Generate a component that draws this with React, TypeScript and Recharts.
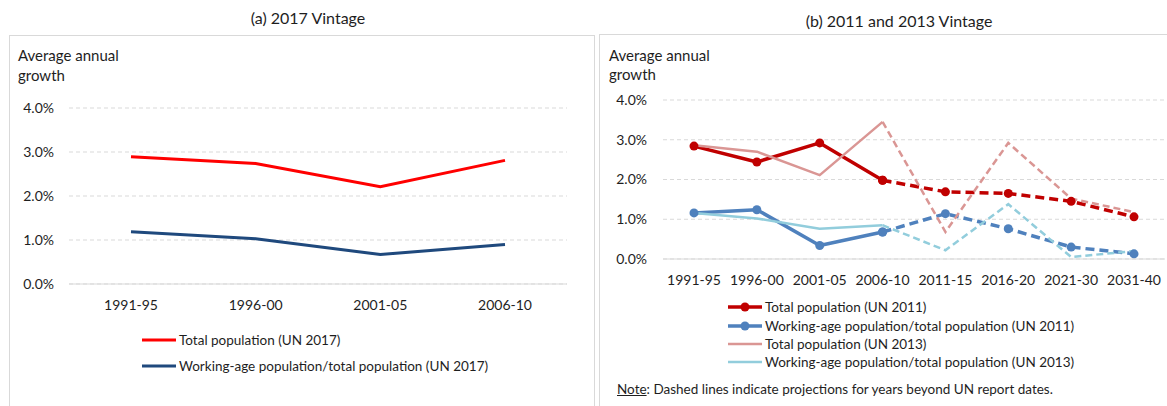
import { CartesianGrid, Legend, Line, LineChart, XAxis, YAxis } from "recharts";

// Panel (a): UN 2017 vintage
const periods2017 = ["1991-95", "1996-00", "2001-05", "2006-10"];
const total2017 = [2.89, 2.74, 2.21, 2.81];
const working2017 = [1.19, 1.03, 0.67, 0.9];

// Panel (b): UN 2011 and 2013 vintages
const periods = ["1991-95", "1996-00", "2001-05", "2006-10", "2011-15", "2016-20", "2021-30", "2031-40"];
const total2011 = [2.84, 2.44, 2.92, 1.98, 1.69, 1.65, 1.45, 1.06];
const working2011 = [1.16, 1.24, 0.34, 0.68, 1.14, 0.76, 0.3, 0.13];
const total2013 = [2.86, 2.7, 2.11, 3.45, 0.68, 2.92, 1.52, 1.18];
const working2013 = [1.16, 1.02, 0.76, 0.85, 0.22, 1.38, 0.05, 0.2];
const lastActual = 3; // 2006-10; later periods are projections

const yTicks = [0, 1, 2, 3, 4];

const FONT = "Lato, 'Open Sans', sans-serif";
const TEXT = "#1e1e1e";
const GRID = "#d9d9d9";

const data2017 = periods2017.map((period, i) => ({
  period,
  total: total2017[i],
  working: working2017[i],
}));

const hist = (vals: number[], i: number) => (i <= lastActual ? vals[i] : null);
const proj = (vals: number[], i: number) => (i >= lastActual ? vals[i] : null);

const data1113 = periods.map((period, i) => ({
  period,
  t11: hist(total2011, i),
  t11p: proj(total2011, i),
  w11: hist(working2011, i),
  w11p: proj(working2011, i),
  t13: hist(total2013, i),
  t13p: proj(total2013, i),
  w13: hist(working2013, i),
  w13p: proj(working2013, i),
}));

type Row = { name: string; color: string; width: number; dot: boolean };

const legend2017: Row[] = [
  { name: "Total population (UN 2017)", color: "#ff0000", width: 3, dot: false },
  { name: "Working-age population/total population (UN 2017)", color: "#1f497d", width: 3, dot: false },
];

const legend1113: Row[] = [
  { name: "Total population (UN 2011)", color: "#c00000", width: 3.5, dot: true },
  { name: "Working-age population/total population (UN 2011)", color: "#4f81bd", width: 3.5, dot: true },
  { name: "Total population (UN 2013)", color: "#da9694", width: 2.5, dot: false },
  { name: "Working-age population/total population (UN 2013)", color: "#92cddc", width: 2.5, dot: false },
];

function LegendRows({ rows, rowHeight }: { rows: Row[]; rowHeight: number }) {
  return (
    <div style={{ fontFamily: FONT, fontSize: 13.5, color: TEXT }}>
      {rows.map((r) => (
        <div key={r.name} style={{ display: "flex", alignItems: "center", height: rowHeight, whiteSpace: "nowrap" }}>
          <svg width={34} height={12} style={{ flex: "none" }}>
            <line x1={0} y1={6} x2={34} y2={6} stroke={r.color} strokeWidth={r.width} />
            {r.dot && <circle cx={17} cy={6} r={4.5} fill={r.color} />}
          </svg>
          <span style={{ marginLeft: 3 }}>{r.name}</span>
        </div>
      ))}
    </div>
  );
}

const pct = (v: number) => `${v.toFixed(1)}%`;
const tickStyle = { fontFamily: FONT, fontSize: 14, fill: TEXT };

function Label({ x, y, text, size = 15, center = false }: { x: number; y: number; text: string; size?: number; center?: boolean }) {
  return (
    <div
      style={{
        position: "absolute",
        left: center ? x - 200 : x,
        width: center ? 400 : undefined,
        textAlign: center ? "center" : "left",
        top: y - 10,
        height: 20,
        lineHeight: "20px",
        fontFamily: FONT,
        fontSize: size,
        color: TEXT,
        whiteSpace: "nowrap",
      }}
    >
      {text}
    </div>
  );
}

export default function App() {
  return (
    <div style={{ position: "relative", width: 1167, height: 406, overflow: "hidden", background: "#fff" }}>
      <style>{"body{margin:0}"}</style>

      {/* panel frames */}
      <div style={{ position: "absolute", left: 9, top: 35, width: 584, height: 400, border: `1px solid ${GRID}` }} />
      <div style={{ position: "absolute", left: 599, top: 34, width: 600, height: 400, border: `1px solid ${GRID}` }} />

      <Label x={308} y={18} text="(a) 2017 Vintage" size={16} center />
      <Label x={18} y={55} text="Average annual" />
      <Label x={18} y={75} text="growth" />

      <Label x={899} y={21} text="(b) 2011 and 2013 Vintage" size={16} center />
      <Label x={609} y={55} text="Average annual" />
      <Label x={609} y={74} text="growth" />

      <div style={{ position: "absolute", left: 0, top: 0 }}>
        <LineChart width={600} height={406} data={data2017} margin={{ top: 108, right: 33, bottom: 92, left: 0 }}>
          <CartesianGrid vertical={false} stroke={GRID} strokeDasharray="4 3" />
          <XAxis
            dataKey="period"
            height={30}
            padding={{ left: 62, right: 62 }}
            tickLine={false}
            tickSize={0}
            tickMargin={16}
            stroke={GRID}
            tick={tickStyle}
            interval={0}
          />
          <YAxis
            width={69}
            domain={[0, 4]}
            ticks={yTicks}
            tickFormatter={pct}
            axisLine={false}
            tickLine={false}
            tickSize={0}
            tickMargin={15}
            tick={tickStyle}
          />
          <Line dataKey="total" stroke="#ff0000" strokeWidth={3} dot={false} activeDot={false} isAnimationActive={false} />
          <Line dataKey="working" stroke="#1f497d" strokeWidth={3} dot={false} activeDot={false} isAnimationActive={false} />
          <Legend
            layout="vertical"
            align="center"
            verticalAlign="middle"
            wrapperStyle={{ left: 142, top: 327, width: 420 }}
            content={() => <LegendRows rows={legend2017} rowHeight={26} />}
          />
        </LineChart>
      </div>

      <div style={{ position: "absolute", left: 597, top: 0 }}>
        <LineChart width={570} height={406} data={data1113} margin={{ top: 100, right: 2, bottom: 117, left: 0 }}>
          <CartesianGrid vertical={false} stroke={GRID} strokeDasharray="4 3" />
          <XAxis
            dataKey="period"
            height={30}
            padding={{ left: 31, right: 31 }}
            tickLine={false}
            tickSize={0}
            tickMargin={16}
            stroke={GRID}
            tick={tickStyle}
            interval={0}
          />
          <YAxis
            width={66}
            domain={[0, 4]}
            ticks={yTicks}
            tickFormatter={pct}
            axisLine={false}
            tickLine={false}
            tickSize={0}
            tickMargin={16}
            tick={tickStyle}
          />
          {/* UN 2011: solid to 2006-10, dashed projections after */}
          <Line dataKey="t11" stroke="#c00000" strokeWidth={3.5} strokeLinejoin="round" dot={{ r: 4.5, fill: "#c00000", strokeWidth: 0 }} activeDot={false} isAnimationActive={false} />
          <Line dataKey="t11p" stroke="#c00000" strokeWidth={3.5} strokeDasharray="9 5" dot={{ r: 4.5, fill: "#c00000", strokeWidth: 0 }} activeDot={false} isAnimationActive={false} />
          <Line dataKey="w11" stroke="#4f81bd" strokeWidth={3.5} strokeLinejoin="round" dot={{ r: 4.5, fill: "#4f81bd", strokeWidth: 0 }} activeDot={false} isAnimationActive={false} />
          <Line dataKey="w11p" stroke="#4f81bd" strokeWidth={3.5} strokeDasharray="9 5" dot={{ r: 4.5, fill: "#4f81bd", strokeWidth: 0 }} activeDot={false} isAnimationActive={false} />
          {/* UN 2013 */}
          <Line dataKey="t13" stroke="#da9694" strokeWidth={2.5} strokeLinejoin="round" dot={false} activeDot={false} isAnimationActive={false} />
          <Line dataKey="t13p" stroke="#da9694" strokeWidth={2.5} strokeDasharray="7 4" dot={false} activeDot={false} isAnimationActive={false} />
          <Line dataKey="w13" stroke="#92cddc" strokeWidth={2.5} strokeLinejoin="round" dot={false} activeDot={false} isAnimationActive={false} />
          <Line dataKey="w13p" stroke="#92cddc" strokeWidth={2.5} strokeDasharray="7 4" dot={false} activeDot={false} isAnimationActive={false} />
          <Legend
            layout="vertical"
            align="center"
            verticalAlign="middle"
            wrapperStyle={{ left: 131, top: 298, width: 420 }}
            content={() => <LegendRows rows={legend1113} rowHeight={18.4} />}
          />
        </LineChart>
      </div>

      <div
        style={{
          position: "absolute",
          left: 617,
          top: 380,
          lineHeight: "18px",
          fontFamily: FONT,
          fontSize: 13.5,
          color: TEXT,
          whiteSpace: "nowrap",
        }}
      >
        <span style={{ textDecoration: "underline" }}>Note</span>: Dashed lines indicate projections for years beyond UN report dates.
      </div>
    </div>
  );
}
